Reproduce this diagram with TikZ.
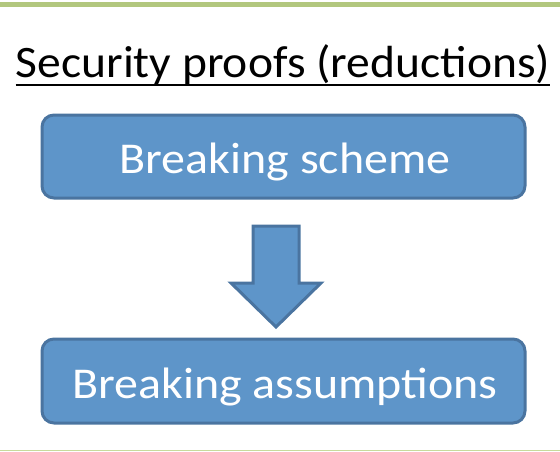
\documentclass[tikz,border=0pt]{standalone}
\usepackage{fontspec}
\setmainfont{Carlito}
\usetikzlibrary{calc}
\definecolor{boxfill}{HTML}{5E95C9}
\definecolor{boxline}{HTML}{4A74A0}
\definecolor{ruletop}{HTML}{B2C77E}
\definecolor{rulebot}{HTML}{C8DA9C}
\tikzset{
  stepbox/.style={draw=boxline, line width=3pt, fill=boxfill, rounded corners=12pt},
  boxtext/.style={text=white, font=\fontsize{44}{48}\selectfont, inner sep=0pt, anchor=base},
}
\newcommand{\widen}[2]{\scalebox{#1}[1]{#2}}
\begin{document}
\begin{tikzpicture}[x=1pt, y=-1pt]
  \useasboundingbox (0,0) rectangle (560,451);
  % horizontal rules
  \fill[ruletop] (0,2) rectangle (560,7);
  \fill[rulebot] (0,449.5) rectangle (560,451);
  % title with underline
  \node[inner sep=0pt, anchor=base, font=\fontsize{45}{50}\selectfont] (title) at (283,77)
    {\widen{1.057}{Security proofs (reductions)}};
  \draw[line width=2.5pt] ($(title.base west)+(0,8)$) -- ($(title.base east)+(0,8)$);
  % upper box
  \draw[stepbox] (42,115) rectangle (525,198);
  \node[boxtext] (t1) at (285,173) {\widen{1.09}{Breaking scheme}};
  % lower box
  \draw[stepbox] (42,339) rectangle (525,423);
  \node[boxtext] (t2) at (285,398) {\widen{1.09}{Breaking assumptions}};
  % block arrow between them
  \draw[draw=boxline, line width=3pt, fill=boxfill, line join=miter]
    (253,226) -- (299,226) -- (299,283) -- (321,283) -- (276,327)
    -- (231,283) -- (253,283) -- cycle;
\end{tikzpicture}
\end{document}
